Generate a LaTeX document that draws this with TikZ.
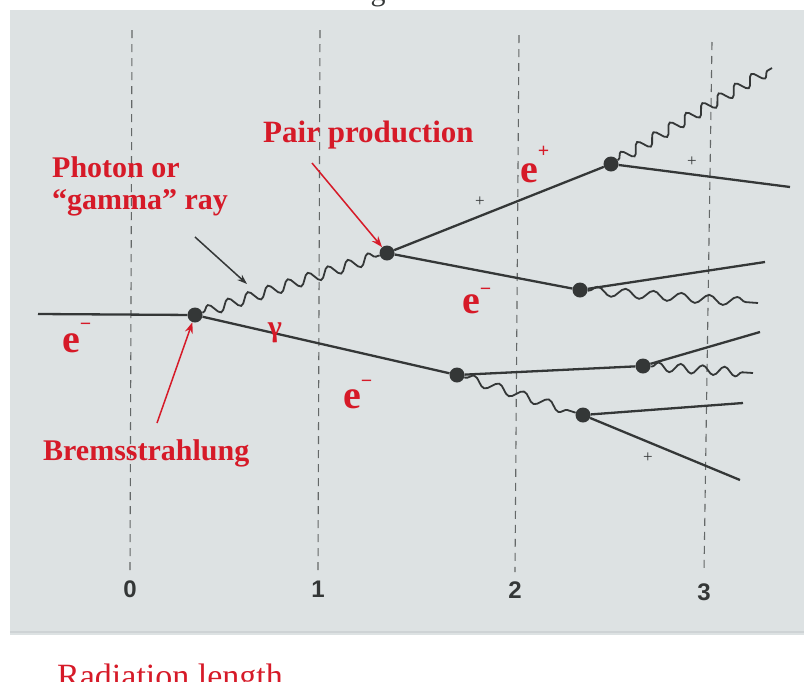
\documentclass[tikz,border=0pt]{standalone}
\usepackage{fontspec}
\setmainfont{Liberation Serif}
\newfontfamily\numfont{Liberation Sans}
\usetikzlibrary{arrows.meta,decorations.pathmorphing}
\definecolor{panel}{RGB}{221,226,227}
\definecolor{paneledge}{RGB}{206,211,213}
\definecolor{lblred}{RGB}{214,26,40}
\definecolor{ink}{RGB}{52,55,55}
\definecolor{dashc}{RGB}{100,104,104}
\newcommand\elab[2]{e\raisebox{#1}{\fontsize{20}{20}\selectfont #2}}
\begin{document}
\begin{tikzpicture}[x=1pt,y=-1pt,
  track/.style={draw=ink, line width=2.3pt},
  photon/.style={draw=ink, line width=1.8pt, decorate,
     decoration={snake, segment length=#1, amplitude=5.5pt, pre length=1pt, post length=1pt}},
  photon/.default=20pt,
  softphoton/.style={photon=#1, decoration={amplitude=4.5pt}},
  vertex/.style={circle, fill=ink, inner sep=0pt, minimum size=15pt},
  redtxt/.style={text=lblred, font=\fontsize{30}{30}\selectfont\bfseries, inner sep=0pt, anchor=base west},
  elabel/.style={text=lblred, font=\fontsize{40}{40}\selectfont\bfseries, inner sep=0pt, anchor=base west},
  gridline/.style={draw=dashc, line width=1.1pt, dash pattern=on 8pt off 6pt},
  num/.style={font=\numfont\bfseries\fontsize{24}{24}\selectfont, text=ink, inner sep=0pt, anchor=base},
  plus/.style={font=\fontsize{17}{17}\selectfont, text=ink, inner sep=0pt},
  redarrow/.style={draw=lblred, line width=1.5pt, -{Stealth[length=11pt,width=8pt]}},
  blackarrow/.style={draw=ink, line width=1.5pt, -{Stealth[length=10pt,width=7pt]}}
]
\useasboundingbox (0,0) rectangle (804,681);
% panel
\fill[panel] (10,10) rectangle (804,635);
\draw[paneledge, line width=2pt] (10,632) -- (804,632);

% partial title glyph at top
\node[font=\fontsize{30}{30}\selectfont, text=ink, anchor=base, inner sep=0pt] (title) at (378,0) {g};

% radiation length grid
\coordinate (t0) at (132,30);  \coordinate (b0) at (130,572);
\coordinate (t1) at (320,30);  \coordinate (b1) at (318,572);
\coordinate (t2) at (519,35);  \coordinate (b2) at (515,572);
\coordinate (t3) at (712,42);  \coordinate (b3) at (704,572);
\draw[gridline] (t0) -- (b0);
\draw[gridline] (t1) -- (b1);
\draw[gridline] (t2) -- (b2);
\draw[gridline] (t3) -- (b3);
\node[num] (n0) at (130,597) {0};
\node[num] (n1) at (318,597) {1};
\node[num] (n2) at (515,598) {2};
\node[num] (n3) at (704,600) {3};

% vertices
\node[vertex] (A) at (195,315) {};
\node[vertex] (B) at (387,253) {};
\node[vertex] (C) at (611,164) {};
\node[vertex] (D) at (580,290) {};
\node[vertex] (E) at (457,375) {};
\node[vertex] (F) at (643,366) {};
\node[vertex] (G) at (583,415) {};

% free ends
\coordinate (in) at (38,314);
\coordinate (c1) at (772,68);
\coordinate (c2) at (790,187);
\coordinate (d1) at (765,262);
\coordinate (d2) at (758,303);
\coordinate (f1) at (760,332);
\coordinate (f2) at (753,373);
\coordinate (g1) at (743,403);
\coordinate (g2) at (740,480);

% charged tracks
\draw[track] (in) -- (A);
\draw[track] (A) -- (E);
\draw[track] (B) -- (C);
\draw[track] (B) -- (D);
\draw[track] (C) -- (c2);
\draw[track] (D) -- (d1);
\draw[track] (E) -- (F);
\draw[track] (F) -- (f1);
\draw[track] (G) -- (g1);
\draw[track] (G) -- (g2);

% photons
\draw[photon=21pt] (A) -- (B);
\draw[photon=19pt] (C) -- (c1);
\draw[softphoton=28pt] (D) -- (d2);
\draw[softphoton=26pt] (E) -- (G);
\draw[softphoton=22pt] (F) -- (f2);

% plus signs
\node[plus] (p1) at (480,202) {+};
\node[plus] (p2) at (692,162) {+};
\node[plus] (p3) at (648,458) {+};

% particle labels
\node[elabel] (e0) at (62,352) {\elab{22pt}{−}};
\node[elabel] (eplus) at (520,182) {\elab{25pt}{+}};
\node[elabel] (e1) at (462,313) {\elab{18pt}{−}};
\node[elabel] (e2) at (343,408) {\elab{21pt}{−}};
\node[text=lblred, font=\fontsize{30}{30}\selectfont\bfseries, inner sep=0pt] (gam) at (275,333) {γ};

% annotations
\node[redtxt] (photonlbl) at (52,177) {Photon or};
\node[redtxt] (gammalbl) at (52,209) {“gamma” ray};
\node[redtxt, font=\fontsize{31}{31}\selectfont\bfseries] (pair) at (263,142) {Pair production};
\node[redtxt] (brems) at (43,460) {Bremsstrahlung};
\node[text=lblred, font=\fontsize{34}{34}\selectfont, anchor=base west, inner sep=0pt] (radlen) at (57,687) {Radiation length};

\coordinate (gtail) at (195,237);
\coordinate (ghead) at (247,284);
\draw[blackarrow] (gtail) -- (ghead);
\coordinate (ptail) at (312,163);
\draw[redarrow] (ptail) -- (B);
\coordinate (btail) at (157,423);
\draw[redarrow] (btail) -- (A);
\end{tikzpicture}
\end{document}
